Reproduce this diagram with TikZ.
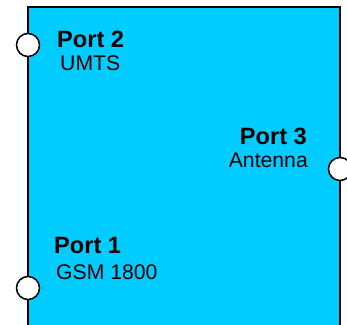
\documentclass[tikz,border=0pt]{standalone}
\usepackage{fontspec}
\setmainfont{Liberation Sans}
\definecolor{boxcyan}{RGB}{0,204,255}
\begin{document}
\begin{tikzpicture}[x=1pt,y=1pt,
  portcirc/.style={circle,draw=black,fill=white,line width=1.5pt,minimum size=23pt,inner sep=0},
  porttitle/.style={inner sep=0,font=\fontsize{23.6}{26}\selectfont\bfseries},
  portsub/.style={inner sep=0,font=\fontsize{21.2}{24}\selectfont}]
\useasboundingbox (0,0) rectangle (347,324);
\path[fill=boxcyan,draw=black,line width=2pt] (28,-10) rectangle (340,317);
\node[portcirc] (c2) at (28,279) {};
\node[portcirc] (c3) at (340,155) {};
\node[portcirc] (c1) at (28,36) {};
\node[porttitle,anchor=base west] (t2) at (57,276) {Port 2};
\node[portsub,anchor=base west] (s2) at (60,253) {UMTS};
\node[porttitle,anchor=base east] (t3) at (307,179) {Port 3};
\node[portsub,anchor=base east] (s3) at (308,157) {Antenna};
\node[porttitle,anchor=base west] (t1) at (54,71) {Port 1};
\node[portsub,anchor=base west] (s1) at (56,45) {GSM 1800};
\end{tikzpicture}
\end{document}
